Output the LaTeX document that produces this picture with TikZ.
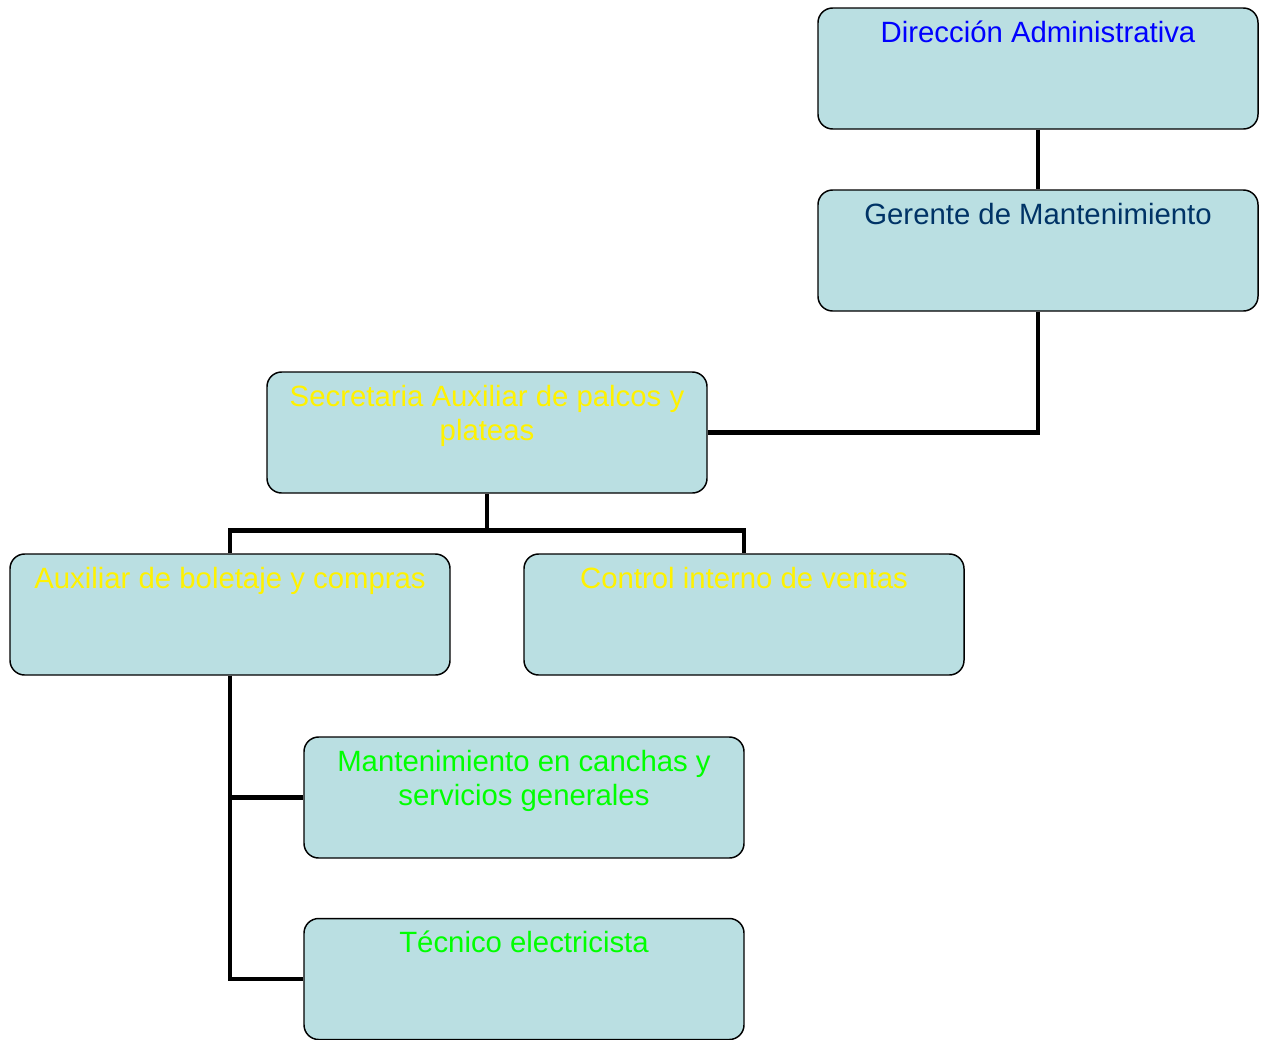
\documentclass[tikz,border=0pt]{standalone}
\usepackage{fontspec}
\setmainfont{Liberation Sans}
\usepackage{tikz}
\usetikzlibrary{positioning,calc}
\definecolor{boxfill}{RGB}{186,223,226}
\definecolor{navy}{RGB}{0,51,102}
\tikzset{
  puesto/.style={draw=black, line width=1.1pt, fill=boxfill, rounded corners=11pt,
    minimum width=330pt, minimum height=90.75pt, inner sep=0pt},
  lbl/.style={inner sep=0pt, anchor=north, align=center,
    font=\fontsize{22}{25.5}\selectfont},
  wire/.style={draw=black, line width=3.6pt}
}

\begin{document}
\begin{tikzpicture}[x=0.75pt,y=-0.75pt]
            \useasboundingbox (0,0) rectangle (1269,1039);

            % cajas
            \node[puesto] (dir) at (1038,68.5) {};
            \node[puesto] (ger) at (1038,250.5) {};
            \node[puesto] (sec) at (487,432.5) {};
            \node[puesto] (aux) at (230,614.5) {};
            \node[puesto] (con) at (744,614.5) {};
            \node[puesto] (man) at (524,797.5) {};
            \node[puesto] (tec) at (524,979) {};

            % textos
            \node[lbl, text=blue] (dirt) [below=8.25pt of dir.north] {\strut Dirección Administrativa};
            \node[lbl, text=navy] (gert) [below=8.25pt of ger.north] {\strut Gerente de Mantenimiento};
            \node[lbl, text=yellow] (sect) [below=8.25pt of sec.north] {\strut Secretaria Auxiliar de palcos y\\plateas};
            \node[lbl, text=yellow] (auxt) [below=8.25pt of aux.north] {\strut Auxiliar de boletaje y compras};
            \node[lbl, text=yellow] (cont) [below=8.25pt of con.north] {\strut Control interno de ventas};
            \node[lbl, text=green] (mant) [below=8.25pt of man.north] {\strut Mantenimiento en canchas y\\servicios generales};
            \node[lbl, text=green] (tect) [below=8.25pt of tec.north] {\strut Técnico electricista};

            % lineas
            \coordinate[below=27.75pt of sec.south] (fork);
            \draw[wire] (dir) -- (ger);
            \draw[wire] (ger.south) |- (sec.east);
            \draw[wire] (sec) -- (fork);
            \draw[wire] (aux.north) |- (fork) -| (con.north);
            \draw[wire] (aux.south) |- (man.west);
            \draw[wire] (aux.south) |- (tec.west);
\end{tikzpicture}
\end{document}
